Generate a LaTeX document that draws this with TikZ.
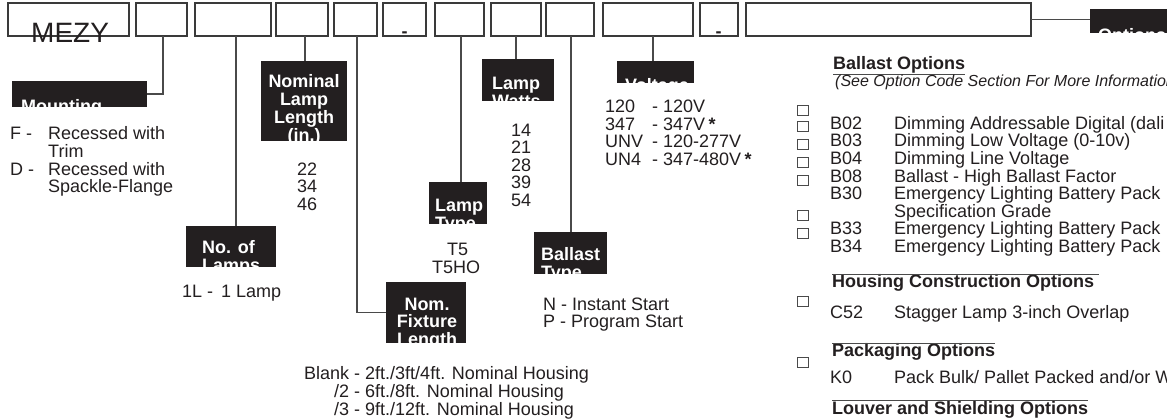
\documentclass[tikz,border=0pt]{standalone}
\usepackage{fontspec}
\setmainfont{Liberation Sans}
\definecolor{boxgray}{HTML}{3A3A3A}
\definecolor{conngray}{HTML}{4A4A4A}
\definecolor{blk}{HTML}{231F20}
\definecolor{txtc}{HTML}{231F20}
\begin{document}
\begin{tikzpicture}[x=1pt,y=-1pt,
  topbox/.style={draw=boxgray, line width=1.4pt, minimum height=33pt, inner sep=0pt, outer sep=0pt, anchor=north west},
  blkbox/.style={fill=blk, draw=none, inner sep=0pt, outer sep=0pt, anchor=north west},
  lbl/.style={text=white, font=\fontsize{18}{18}\selectfont\bfseries, inner sep=0pt, anchor=base west},
  lblc/.style={lbl, anchor=base},
  txt/.style={text=txtc, font=\fontsize{18}{18}\selectfont, inner sep=0pt, anchor=base west},
  txtc/.style={txt, anchor=base},
  hdr/.style={text=txtc, font=\fontsize{18}{18}\selectfont\bfseries, inner sep=0pt, anchor=base west},
  conn/.style={draw=conngray, line width=1.3pt},
  rule/.style={draw=conngray, line width=1.2pt},
  chk/.style={draw=conngray, line width=0.8pt, minimum width=11pt, minimum height=10pt, inner sep=0pt, outer sep=0pt}
]
\fill[white] (0,0) rectangle (1167,419);
\useasboundingbox (0,0) rectangle (1167,419);

% top code boxes
\node[topbox, minimum width=121pt] (b1) at (8,3) {};
\node[topbox, minimum width=51pt] (b2) at (136,3) {};
\node[topbox, minimum width=76pt] (b3) at (195,3) {};
\node[topbox, minimum width=52pt] (b4) at (276,3) {};
\node[topbox, minimum width=43pt] (b5) at (334,3) {};
\node[topbox, minimum width=43pt] (b6) at (383,3) {};
\node[topbox, minimum width=49pt] (b7) at (435,3) {};
\node[topbox, minimum width=50pt] (b8) at (491,3) {};
\node[topbox, minimum width=48pt] (b9) at (546,3) {};
\node[topbox, minimum width=90pt] (b10) at (603,3) {};
\node[topbox, minimum width=38pt] (b11) at (700,3) {};
\node[topbox, minimum width=285pt] (b12) at (746,3) {};

\node[txt, font=\fontsize{28}{28}\selectfont] (mezy) at (31,42.5) {MEZY};
\node[txtc, font=\fontsize{18}{18}\selectfont\bfseries] (d6) at (404.5,37.5) {-};
\node[txtc, font=\fontsize{18}{18}\selectfont\bfseries] (d11) at (718.5,37.5) {-};

% black label boxes
\node[blkbox, minimum width=135pt, minimum height=26pt] (mount) at (12,81) {};
\node[blkbox, minimum width=90pt, minimum height=41pt] (lamps) at (186,226) {};
\node[blkbox, minimum width=86pt, minimum height=80pt] (nll) at (261,61) {};
\node[blkbox, minimum width=80pt, minimum height=61pt] (nfl) at (386,282) {};
\node[blkbox, minimum width=58pt, minimum height=42pt] (ltype) at (429,182) {};
\node[blkbox, minimum width=72pt, minimum height=42pt] (lwatts) at (482,59) {};
\node[blkbox, minimum width=73pt, minimum height=42pt] (btype) at (534,232) {};
\node[blkbox, minimum width=77pt, minimum height=22pt] (volt) at (617,61) {};
\node[blkbox, minimum width=80pt, minimum height=24pt] (opts) at (1090,9) {};

% clipped white labels
\begin{scope}\clip (mount.north west) rectangle (mount.south east);
\node[lbl] (mount-t) at (21,113) {Mounting};\end{scope}
\begin{scope}\clip (lamps.north west) rectangle (lamps.south east);
\node[lbl] (lamps-t1) at (202,254) {No. of};
\node[lbl] (lamps-t2) at (202,272) {Lamps};\end{scope}
\begin{scope}\clip (nll.north west) rectangle (nll.south east);
\node[lblc] (nll-t1) at (304,88) {Nominal};
\node[lblc] (nll-t2) at (304,106) {Lamp};
\node[lblc] (nll-t3) at (304,123.5) {Length};
\node[lblc] (nll-t4) at (304,141.5) {(in.)};\end{scope}
\begin{scope}\clip (nfl.north west) rectangle (nfl.south east);
\node[lblc] (nfl-t1) at (427,311) {Nom.};
\node[lblc] (nfl-t2) at (427,328) {Fixture};
\node[lblc] (nfl-t3) at (427,345.5) {Length};\end{scope}
\begin{scope}\clip (ltype.north west) rectangle (ltype.south east);
\node[lbl] (ltype-t1) at (435,211.7) {Lamp};
\node[lbl] (ltype-t2) at (435,229.5) {Type};\end{scope}
\begin{scope}\clip (lwatts.north west) rectangle (lwatts.south east);
\node[lbl] (lwatts-t1) at (492,90) {Lamp};
\node[lbl] (lwatts-t2) at (492,108) {Watts};\end{scope}
\begin{scope}\clip (btype.north west) rectangle (btype.south east);
\node[lbl] (btype-t1) at (541,261) {Ballast};
\node[lbl] (btype-t2) at (541,279) {Type};\end{scope}
\begin{scope}\clip (volt.north west) rectangle (volt.south east);
\node[lbl] (volt-t) at (625,92) {Voltage};\end{scope}
\begin{scope}\clip (opts.north west) rectangle (opts.south east);
\node[lbl] (opts-t) at (1098,42) {Options};\end{scope}

% connectors
\draw[conn] ([xshift=1.5pt]b2.south) |- (mount.east);
\draw[conn] ([xshift=3pt]b3.south) -- ([xshift=3pt]b3.south |- lamps.north);
\draw[conn] ([xshift=3pt]b4.south) -- ([xshift=3pt]b4.south |- nll.north);
\draw[conn] ([xshift=1.5pt]b5.south) |- (nfl.west);
\draw[conn] ([xshift=1.5pt]b7.south) -- ([xshift=1.5pt]b7.south |- ltype.north);
\draw[conn] (b8.south) -- (b8.south |- lwatts.north);
\draw[conn] ([xshift=1pt]b9.south) -- ([xshift=1pt]b9.south |- btype.north);
\draw[conn] ([xshift=5pt]b10.south) -- ([xshift=5pt]b10.south |- volt.north);
\draw[conn] (b12.east) -- (b12.east -| opts.west);

% mounting list
\node[txt] (m1a) at (10,140) {F -};
\node[txt] (m1b) at (48,140) {Recessed with};
\node[txt] (m1c) at (48,157.7) {Trim};
\node[txt] (m2a) at (10,175.4) {D -};
\node[txt] (m2b) at (48,175.4) {Recessed with};
\node[txt] (m2c) at (48,193) {Spackle-Flange};

% lamp lengths
\node[txt] (l1) at (297,175.5) {22};
\node[txt] (l2) at (297,193) {34};
\node[txt] (l3) at (297,211) {46};

% number of lamps
\node[txt] (n1) at (182,298) {1L -\ \,1 Lamp};

% lamp type
\node[txtc] (lt1) at (457.5,256) {T5};
\node[txtc] (lt2) at (456,273.5) {T5HO};

% watts
\node[txt] (w1) at (511,136.5) {14};
\node[txt] (w2) at (511,154) {21};
\node[txt] (w3) at (511,171.5) {28};
\node[txt] (w4) at (511,189) {39};
\node[txt] (w5) at (511,206.5) {54};

% voltage
\node[txt] (v1a) at (605,112.5) {120};
\node[txt] (v1b) at (652,112.5) {- 120V};
\node[txt] (v2a) at (605,130.2) {347};
\node[txt] (v2b) at (652,130.2) {- 347V};
\node[hdr] (v2s) at (v2b.base east) {\,*};
\node[txt] (v3a) at (605,148) {UNV};
\node[txt] (v3b) at (652,148) {- 120-277V};
\node[txt] (v4a) at (605,165.7) {UN4};
\node[txt] (v4b) at (652,165.7) {- 347-480V};
\node[hdr] (v4s) at (v4b.base east) {\,*};

% ballast type
\node[txt] (bt1) at (543,311) {N - Instant Start};
\node[txt] (bt2) at (543,328) {P - Program Start};

% fixture length
\node[txt] (fl1) at (304,380) {Blank - 2ft./3ft/4ft. Nominal Housing};
\node[txt] (fl2) at (334,397.7) {/2 - 6ft./8ft. Nominal Housing};
\node[txt] (fl3) at (334,415) {/3 - 9ft./12ft. Nominal Housing};

% options column
\node[hdr] (bo) at (833,70) {Ballast Options};
\draw[rule] ([yshift=-0.5pt]bo.south west) -- ([yshift=-0.5pt]bo.south east);
\node[txt, font=\fontsize{16}{16}\selectfont\itshape] (see) at (835,87) {(See Option Code Section For More Information};

\node[chk] (k0) at (803,110) {};
\node[chk] (k1) at (803,126.5) {};
\node[chk] (k2) at (803,144) {};
\node[chk] (k3) at (803,162) {};
\node[chk] (k4) at (803,180) {};
\node[chk] (k5) at (803,215.5) {};
\node[chk] (k6) at (803,233) {};

\node[txt] (o1a) at (830,129.4) {B02};
\node[txt] (o1b) at (894,129.4) {Dimming Addressable Digital (dali};
\node[txt] (o2a) at (830,147) {B03};
\node[txt] (o2b) at (894,147) {Dimming Low Voltage (0-10v)};
\node[txt] (o3a) at (830,164.6) {B04};
\node[txt] (o3b) at (894,164.6) {Dimming Line Voltage};
\node[txt] (o4a) at (830,182.2) {B08};
\node[txt] (o4b) at (894,182.2) {Ballast - High Ballast Factor};
\node[txt] (o5a) at (830,199.8) {B30};
\node[txt] (o5b) at (894,199.8) {Emergency Lighting Battery Pack};
\node[txt] (o5c) at (894,217.4) {Specification Grade};
\node[txt] (o6a) at (830,235) {B33};
\node[txt] (o6b) at (894,235) {Emergency Lighting Battery Pack};
\node[txt] (o7a) at (830,252.6) {B34};
\node[txt] (o7b) at (894,252.6) {Emergency Lighting Battery Pack};

\node[hdr] (hco) at (832,287.5) {Housing Construction Options};
\draw[rule] (hco.north west) -- ([xshift=5pt]hco.north east);
\node[chk] (k7) at (803,301) {};
\node[txt] (h1a) at (830,319) {C52};
\node[txt] (h1b) at (894,319) {Stagger Lamp 3-inch Overlap};

\node[hdr] (pko) at (832,356.7) {Packaging Options};
\draw[rule] (pko.north west) -- (pko.north east);
\node[chk] (k8) at (803,362.5) {};
\node[txt] (p1a) at (830,384) {K0};
\node[txt] (p1b) at (894,384) {Pack Bulk/ Pallet Packed and/or W};

\node[hdr] (lso) at (832,414) {Louver and Shielding Options};
\draw[rule] (lso.north west) -- (lso.north east);
\end{tikzpicture}
\end{document}
